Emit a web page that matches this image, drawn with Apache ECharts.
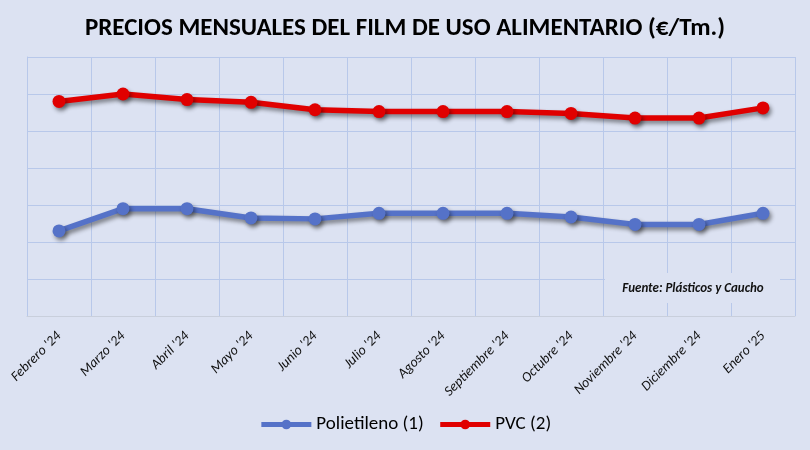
<!DOCTYPE html>
<html>
<head>
<meta charset="utf-8">
<script src="https://cdn.jsdelivr.net/npm/echarts@6/dist/echarts.min.js"></script>
<style>
  html, body { margin: 0; padding: 0; background: #dce2f2; }
  #main { width: 810px; height: 450px; }
</style>
</head>
<body>
<div id="main"></div>
<script>
// meses
const months = ["Febrero '24", "Marzo '24", "Abril '24", "Mayo '24", "Junio '24", "Julio '24",
  "Agosto '24", "Septiembre '24", "Octubre '24", "Noviembre '24", "Diciembre '24", "Enero '25"]
// precios estimados (€/Tm.)
const polietileno = [1060, 1180, 1180, 1130, 1125, 1155, 1155, 1155, 1135, 1095, 1095, 1155]
const pvc = [1760, 1800, 1770, 1755, 1715, 1705, 1705, 1705, 1695, 1670, 1670, 1725]

const font = "Carlito, 'Liberation Sans', sans-serif"
const gridColor = '#b8c8ea'

const chart = echarts.init(document.getElementById('main'))

const lineSeries = (name, data, color) => ({
  name: name,
  type: 'line',
  data: data,
  symbol: 'circle',
  symbolSize: 13,
  itemStyle: { color: color, shadowColor: 'rgba(0,0,0,0.45)', shadowBlur: 4, shadowOffsetX: 2, shadowOffsetY: 3 },
  lineStyle: { color: color, width: 5.5, shadowColor: 'rgba(0,0,0,0.45)', shadowBlur: 4, shadowOffsetX: 2, shadowOffsetY: 3 }
})

const option = {
  backgroundColor: '#dce2f2',
  animation: false,
  title: {
    text: 'PRECIOS MENSUALES DEL FILM DE USO ALIMENTARIO (€/Tm.)',
    left: 'center',
    top: 11,
    textStyle: { fontFamily: font, fontSize: 25, fontWeight: 'bold', color: '#000' }
  },
  grid: { left: 27, right: 15, top: 57, bottom: 134 },
  legend: {
    bottom: 11,
    left: 'center',
    itemWidth: 50,
    itemHeight: 12,
    itemGap: 14,
    lineStyle: { width: 5 },
    textStyle: { fontFamily: font, fontSize: 19, color: '#000' },
    data: ['Polietileno (1)', 'PVC (2)']
  },
  xAxis: {
    type: 'category',
    data: months,
    boundaryGap: true,
    axisLine: { lineStyle: { color: '#c9cfdc' } },
    axisTick: { show: false },
    splitLine: { show: true, lineStyle: { color: gridColor, width: 1 } },
    axisLabel: {
      interval: 0,
      rotate: 45,
      margin: 18,
      fontFamily: font,
      fontStyle: 'italic',
      fontSize: 14,
      color: '#111'
    }
  },
  yAxis: {
    type: 'value',
    min: 600,
    max: 2000,
    interval: 200,
    axisLabel: { show: false },
    axisLine: { show: true, lineStyle: { color: gridColor } },
    axisTick: { show: false },
    splitLine: { lineStyle: { color: gridColor, width: 1 } }
  },
  graphic: [
    {
      type: 'rect',
      shape: { x: 605, y: 273, width: 175, height: 30 },
      style: { fill: '#dce2f2' },
      z: 10
    },
    {
      type: 'text',
      x: 693,
      y: 289,
      style: {
        text: 'Fuente: Plásticos y Caucho',
        font: "italic bold 13px Carlito, 'Liberation Sans', sans-serif",
        fill: '#111',
        align: 'center',
        verticalAlign: 'middle'
      },
      z: 11
    }
  ],
  series: [
    lineSeries('Polietileno (1)', polietileno, '#5572c8'),
    lineSeries('PVC (2)', pvc, '#e00000')
  ]
}

chart.setOption(option)
</script>
</body>
</html>
